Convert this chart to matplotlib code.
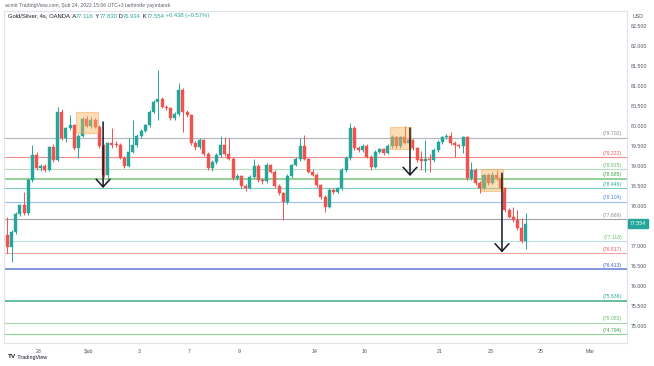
import matplotlib
matplotlib.use("Agg")
import matplotlib.pyplot as plt
import matplotlib.transforms as mtransforms
from matplotlib.patches import Rectangle
import numpy as np

plt.rcParams['font.family'] = ['Liberation Sans', 'DejaVu Sans']

# ---------------- data (4h candles, Gold/Silver) ----------------
opens = [77.28, 76.98, 77.36, 77.80, 78.02, 77.82, 78.65, 79.27, 78.94, 79.00,
         78.90, 79.47, 79.15, 80.36, 79.69, 79.94, 80.02, 79.44, 79.75, 80.17,
         80.00, 80.15, 79.98, 79.50, 78.77, 79.57, 79.56, 79.52, 79.20, 79.00,
         79.36, 79.52, 79.75, 79.88, 80.02, 80.36, 80.61, 80.67, 80.48, 80.44,
         80.19, 80.30, 80.90, 80.36, 80.27, 79.57, 79.47, 79.65, 79.30, 78.94,
         79.10, 79.27, 79.52, 79.30, 79.17, 78.69, 78.75, 78.50, 78.45, 78.73,
         79.00, 78.65, 78.62, 79.03, 78.86, 78.50, 78.33, 78.10, 78.75, 79.03,
         79.17, 79.50, 79.17, 78.86, 78.78, 78.52, 78.23, 77.98, 78.40, 78.35,
         78.44, 78.90, 79.19, 79.94, 79.44, 79.40, 79.50, 79.23, 78.97, 79.36,
         79.42, 79.33, 79.50, 79.73, 79.50, 79.72, 79.58, 79.65, 79.44, 79.18,
         79.13, 79.18, 79.15, 79.40, 79.60, 79.72, 79.75, 79.57, 79.52, 79.50,
         79.73, 78.69, 78.90, 78.57, 78.44, 78.77, 78.57, 78.77, 78.69, 78.44,
         77.90, 77.73, 77.65, 77.44, 77.116]
highs = [77.73, 77.40, 77.85, 78.05, 78.36, 78.70, 79.52, 79.35, 79.05, 79.05,
         79.50, 79.55, 80.48, 80.42, 79.98, 80.27, 80.05, 79.80, 80.22, 80.25,
         80.22, 80.20, 80.02, 79.55, 79.60, 79.94, 79.62, 79.58, 79.25, 79.69,
         80.15, 79.80, 79.92, 80.06, 80.40, 80.66, 81.40, 80.72, 80.52, 80.47,
         80.34, 81.07, 80.95, 80.40, 80.31, 79.62, 79.70, 79.68, 79.34, 79.14,
         79.32, 79.75, 79.72, 79.69, 79.22, 78.80, 78.78, 78.56, 78.78, 79.17,
         79.05, 78.70, 79.08, 79.06, 78.90, 78.55, 78.36, 78.80, 79.06, 79.22,
         79.69, 79.77, 79.20, 78.92, 78.82, 78.56, 78.27, 78.44, 78.46, 78.48,
         78.94, 79.24, 80.07, 79.99, 79.50, 79.55, 79.54, 79.27, 79.40, 79.46,
         79.45, 79.55, 79.77, 79.76, 79.76, 80.00, 79.70, 79.68, 79.48, 79.38,
         79.65, 79.30, 79.44, 79.64, 79.75, 79.80, 79.86, 79.62, 79.56, 79.76,
         79.76, 79.11, 78.94, 78.62, 78.80, 78.82, 78.84, 78.90, 78.72, 78.48,
         77.95, 77.98, 77.90, 77.70, 77.830]
lows = [76.82, 76.60, 77.30, 77.76, 77.78, 77.78, 78.60, 78.90, 78.88, 78.85,
        78.88, 79.10, 79.12, 79.65, 79.60, 79.90, 79.40, 79.19, 79.72, 79.97,
        79.96, 79.95, 79.45, 78.73, 78.70, 79.45, 79.48, 79.18, 78.96, 78.98,
        79.32, 79.48, 79.70, 79.84, 79.98, 80.32, 80.15, 80.44, 80.40, 80.15,
        80.14, 80.26, 79.86, 80.22, 79.52, 79.40, 79.42, 79.26, 78.90, 78.88,
        79.06, 79.22, 79.26, 79.14, 78.65, 78.64, 78.46, 78.38, 78.42, 78.70,
        78.60, 78.55, 78.58, 78.82, 78.46, 78.28, 77.65, 78.05, 78.70, 79.00,
        79.12, 79.14, 78.82, 78.74, 78.48, 78.18, 77.86, 77.94, 78.30, 78.32,
        78.40, 78.86, 79.15, 79.40, 79.35, 79.36, 79.19, 78.90, 78.94, 79.32,
        79.28, 79.30, 79.46, 79.46, 79.46, 79.54, 79.55, 79.40, 79.11, 78.90,
        78.86, 78.85, 79.10, 79.36, 79.56, 79.68, 79.52, 79.23, 79.45, 79.32,
        78.65, 78.64, 78.52, 78.32, 78.40, 78.53, 78.54, 78.64, 78.40, 77.86,
        77.69, 77.60, 77.40, 77.08, 76.934]
closes = [76.98, 77.36, 77.80, 78.02, 77.82, 78.65, 79.27, 78.94, 79.00, 78.90,
          79.47, 79.15, 80.36, 79.69, 79.94, 80.02, 79.44, 79.75, 80.17, 80.00,
          80.15, 79.98, 79.50, 78.77, 79.57, 79.52, 79.52, 79.20, 79.00, 79.36,
          79.52, 79.75, 79.88, 80.02, 80.36, 80.61, 80.67, 80.48, 80.44, 80.19,
          80.30, 80.90, 80.36, 80.27, 79.57, 79.47, 79.65, 79.30, 78.94, 79.10,
          79.27, 79.52, 79.30, 79.17, 78.69, 78.75, 78.50, 78.45, 78.73, 79.00,
          78.65, 78.62, 79.03, 78.86, 78.50, 78.33, 78.10, 78.75, 79.03, 79.17,
          79.50, 79.17, 78.86, 78.78, 78.52, 78.23, 77.98, 78.40, 78.35, 78.44,
          78.90, 79.19, 79.94, 79.44, 79.40, 79.50, 79.23, 78.97, 79.36, 79.42,
          79.33, 79.50, 79.73, 79.50, 79.72, 79.58, 79.65, 79.44, 79.15, 79.13,
          79.18, 79.15, 79.40, 79.60, 79.72, 79.75, 79.57, 79.52, 79.50, 79.73,
          78.69, 78.90, 78.57, 78.44, 78.77, 78.57, 78.77, 78.69, 78.44, 77.90,
          77.73, 77.65, 77.44, 77.116, 77.554]

# horizontal levels
levels = [79.702, 79.222, 78.915, 78.685, 78.446, 78.104, 77.669,
          77.116, 76.817, 76.413, 75.636, 75.083, 74.794]
level_colors = ['#b2b5be', '#f28e8e', '#b5dcbb', '#81c784', '#80cbc4', '#9cc0ee', '#a3a3ab',
                '#b9e2dc', '#f4a3a3', '#6f86d6', '#4fb28f', '#a5d6a7', '#8fcf92']
label_colors = ['#8a8d96', '#e85b5b', '#66bb6a', '#43a047', '#26a69a', '#4a86e0', '#8a8d96',
                '#66bb6a', '#e85b5b', '#3f5fd0', '#26a69a', '#66bb6a', '#43a047']

# time axis
day_labels = ['28', 'Şub', '3', '7', '9', '14', '16', '21', '23', '25', 'Mar']
day_index = [0, 2, 4, 6, 8, 11, 13, 16, 18, 20, 22]   # trading-day count from Jan 28
# price axis (77.500 is hidden under the last-price tag)
price_ticks = [75.0, 75.5, 76.0, 76.5, 77.0, 78.0, 78.5,
               79.0, 79.5, 80.0, 80.5, 81.0, 81.5, 82.0, 82.5]

# pattern boxes (first bar, last bar, low, high) and down arrows (bar, from, to)
box_first = [17, 92, 114]
box_last = [21, 96, 118]
box_low = [79.82, 79.42, 78.38]
box_high = [80.35, 79.98, 78.93]
arrow_bar = [22.9, 96.3, 118.3]
arrow_from = [80.10, 79.95, 78.82]
arrow_to = [78.45, 78.75, 76.84]

# ---------------- figure ----------------
W, H = 654, 366
fig = plt.figure(figsize=(W / 100, H / 100), dpi=100)
L, R, T, B = 4, 627, 11, 343
ax = fig.add_axes([L / W, 1 - B / H, (R - L) / W, (B - T) / H])

UP, DN = '#26a69a', '#ef5350'
x = np.arange(len(opens))
o = np.array(opens); c = np.array(closes); h = np.array(highs); lo = np.array(lows)
cols = np.where(c >= o, UP, DN)

ax.vlines(x, lo, h, colors=cols, lw=0.7, zorder=3)
body_b = np.minimum(o, c)
body_h = np.maximum(np.abs(c - o), 0.015)
ax.bar(x, body_h, bottom=body_b, width=0.72, color=cols, edgecolor=cols, lw=0.3, zorder=4)

bars_per_day = 6
first_day_bar = 7.5

ax.set_xlim(-0.8, 148.2)
ax.set_ylim(74.575, 82.875)

# horizontal levels
trans = mtransforms.blended_transform_factory(ax.transAxes, ax.transData)
for lv, lc, tc in zip(levels, level_colors, label_colors):
    lw = 1.2 if lv in (76.413, 75.636, 78.685) else 0.8
    ax.axhline(lv, color=lc, lw=lw, zorder=2)
    ax.text(0.992, lv + 0.04, f'({lv:.3f})', transform=trans, ha='right', va='bottom',
            fontsize=3.7, color=tc, zorder=6)

# boxes
for b0, b1, bl, bh in zip(box_first, box_last, box_low, box_high):
    ax.add_patch(Rectangle((b0 - 0.6, bl), b1 - b0 + 1.2, bh - bl, facecolor='#f9b35c',
                           alpha=0.45, edgecolor='#f0a040', lw=0.8, zorder=5))

# arrows
for ab, af, at in zip(arrow_bar, arrow_from, arrow_to):
    ax.annotate('', xy=(ab, at), xytext=(ab, af),
                arrowprops=dict(arrowstyle='->,head_length=0.55,head_width=0.5',
                                color='#131722', lw=1.1, shrinkA=0, shrinkB=0), zorder=7)

# axes styling
for s in ax.spines.values():
    s.set_color('#e0e3eb'); s.set_linewidth(0.8)
ax.yaxis.tick_right()
ax.set_yticks(price_ticks)
ax.set_yticklabels([f'{p:.3f}' for p in price_ticks])
ax.tick_params(axis='y', length=0, pad=3, labelsize=3.8, labelcolor='#50535e')
ax.set_xticks([first_day_bar + bars_per_day * d for d in day_index])
ax.set_xticklabels(day_labels)
ax.tick_params(axis='x', length=0, pad=4, labelsize=3.8, labelcolor='#50535e')

# current price tag
ax.annotate(f'{closes[-1]:.3f}', xy=(1.0, closes[-1]), xycoords=trans,
            xytext=(2, 0), textcoords='offset points', ha='left', va='center',
            fontsize=3.8, color='white', annotation_clip=False,
            bbox=dict(boxstyle='square,pad=0.35', fc=UP, ec=UP))

fig.text((R + 6) / W, 1 - 16 / H, 'USD', fontsize=3.8, color='#50535e', va='center')

# header texts
fig.text(5 / W, 1 - 5 / H, 'acmir TradingView.com, Şub 24, 2022 15:06 UTC+3 tarihinde yayınlandı',
         fontsize=3.7, color='#5d606b', va='center')
hdr_fs = 4.2
t0 = fig.text(8 / W, 1 - 16 / H, 'Gold/Silver, 4s, OANDA ', fontsize=hdr_fs, color='#131722',
              va='center')
parts = [(' A', '#131722'), (f'{opens[-1]:.3f}', UP), (' Y', '#131722'), (f'{highs[-1]:.3f}', UP),
         (' D', '#131722'), (f'{lows[-1]:.3f}', UP), (' K', '#131722'), (f'{closes[-1]:.3f}', UP),
         (' +0.438 (+0.57%)', UP)]
prev = t0
for txt, col in parts:
    prev = ax.annotate(txt, xy=(1, 0), xycoords=prev, ha='left', va='bottom',
                       fontsize=hdr_fs, color=col, annotation_clip=False)

# TradingView logo
tv = fig.text(8 / W, 1 - 357 / H, 'TV', fontsize=4.6, fontweight='bold', color='#131722', va='center')
ax.annotate(' TradingView', xy=(1, 0), xycoords=tv, ha='left', va='bottom', fontsize=3.9,
            color='#131722', annotation_clip=False)

fig.savefig('out.png', dpi=100, facecolor='white')
